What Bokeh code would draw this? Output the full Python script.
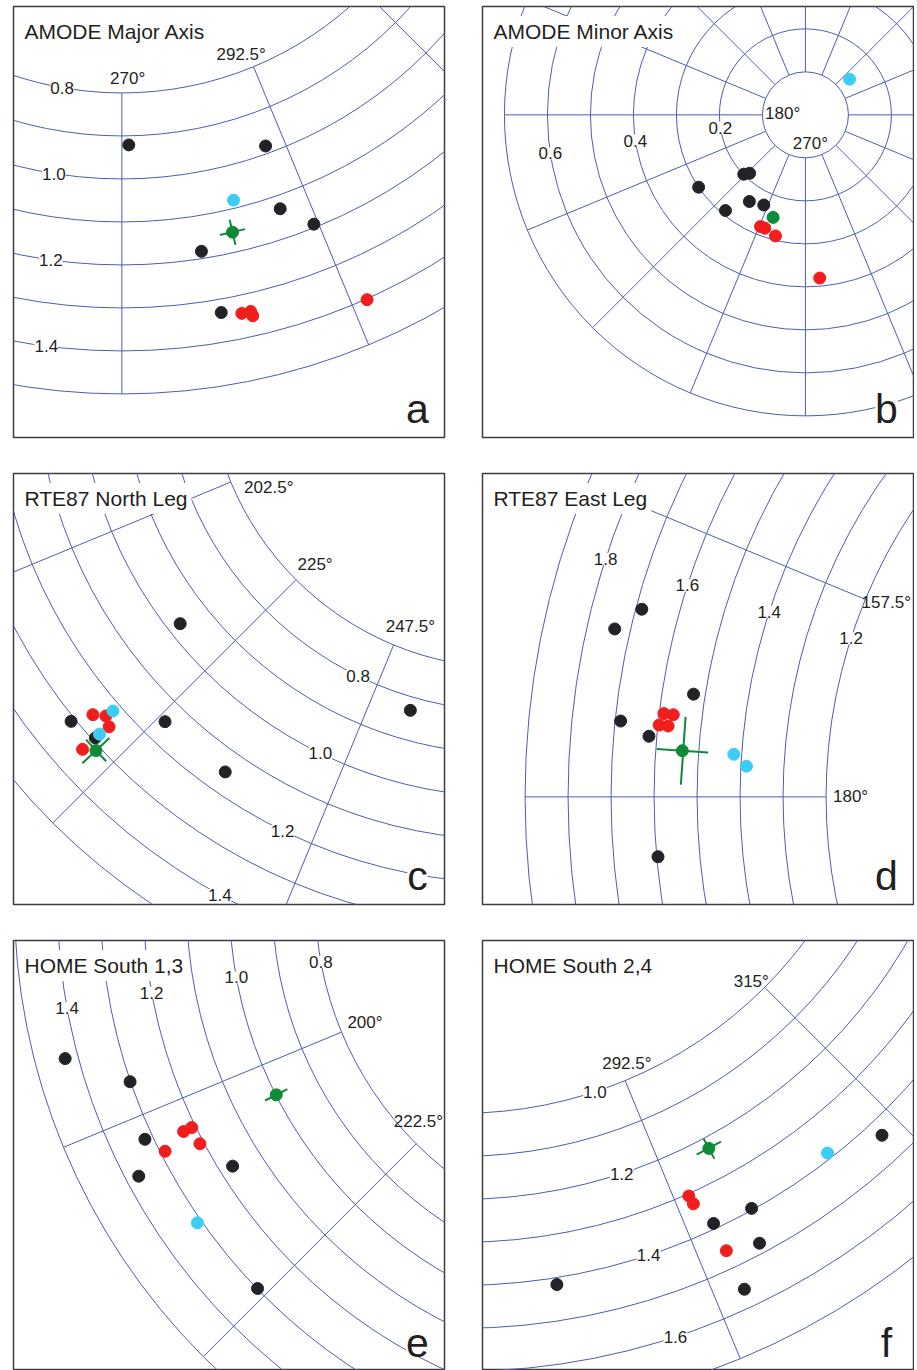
import numpy as np
from bokeh.core.properties import value
from bokeh.embed import file_html
from bokeh.layouts import column, row
from bokeh.models import Label
from bokeh.plotting import figure
from bokeh.resources import INLINE

FONT = "Liberation Sans"
GRID = "#4d5cb3"
INK = "#231f20"
BLACK, RED, CYAN, GREEN = "#222326", "#f21d1d", "#3ccdf4", "#0f8a36"
PX = 430.0      # pixels per unit of radius
FRAME = 431     # frame width in pixels

# ---- a: AMODE Major Axis (angle in degrees, radius) ----
a_rings = [0.8, 0.9, 1.0, 1.1, 1.2, 1.3, 1.4, 1.5]
a_ring_ticks = [0.8, 1.0, 1.2, 1.4]
a_spoke_ticks = [270, 292.5]
a_black_ang = [271.0, 289.9, 289.0, 292.0, 279.0, 280.0]
a_black_r = [0.921, 0.982, 1.131, 1.192, 1.183, 1.331]
a_red_ang = [282.0, 282.9, 283.0, 294.0]
a_red_r = [1.342, 1.342, 1.353, 1.402]
a_cyan_ang = [283.9]
a_cyan_r = [1.081]
a_mean = [282.9, 1.153]
a_err = [1.5, 0.03]

# ---- b: AMODE Minor Axis ----
b_rings = [0.1, 0.2, 0.3, 0.4, 0.5, 0.6, 0.7]
b_ring_ticks = [0.2, 0.4, 0.6]
b_spoke_ticks = [180, 270]
b_black_ang = [214.1, 223.9, 226.3, 230.1, 237.1, 245.2]
b_black_r = [0.300, 0.199, 0.188, 0.290, 0.240, 0.231]
b_red_ang = [248.1, 250.3, 256.1, 275.0]
b_red_r = [0.280, 0.280, 0.290, 0.381]
b_cyan_ang = [39.0]
b_cyan_r = [0.132]
b_mean = [252.5, 0.250]
b_err = [3.2, 0.01]

# ---- c: RTE87 North Leg ----
c_rings = [0.7, 0.8, 0.9, 1.0, 1.1, 1.2, 1.3, 1.4, 1.5]
c_ring_ticks = [0.8, 1.0, 1.2, 1.4]
c_spoke_ticks = [202.5, 225, 247.5]
c_black_ang = [218.0, 219.0, 225.9, 235.0, 254.0, 221.9]
c_black_r = [0.970, 1.310, 1.149, 1.150, 0.831, 1.292]
c_red_ang = [219.9, 220.9, 222.0, 221.9]
c_red_r = [1.261, 1.240, 1.251, 1.332]
c_cyan_ang = [221.0, 221.9]
c_cyan_r = [1.220, 1.279]
c_mean = [222.9, 1.311]
c_err = [1.5, 0.043]

# ---- d: RTE87 East Leg ----
d_rings = [1.2, 1.3, 1.4, 1.5, 1.6, 1.7, 1.8, 1.9]
d_ring_ticks = [1.2, 1.4, 1.6, 1.8]
d_spoke_ticks = [157.5, 180]
d_black_ang = [165.0, 167.0, 171.0, 174.0, 175.0, 185.0]
d_black_r = [1.686, 1.736, 1.527, 1.687, 1.618, 1.597]
d_red_ang = [173.0, 173.0, 174.0, 174.0]
d_red_r = [1.589, 1.567, 1.597, 1.576]
d_cyan_ang = [176.0, 177.05]
d_cyan_r = [1.418, 1.387]
d_mean = [176.0, 1.538]
d_err = [2.95, 0.06]

# ---- e: HOME South 1,3 ----
e_rings = [0.8, 0.9, 1.0, 1.1, 1.2, 1.3, 1.4, 1.5]
e_ring_ticks = [0.8, 1.0, 1.2, 1.4]
e_spoke_ticks = [200, 222.5]
e_black_ang = [192.4, 196.4, 202.4, 205.4, 209.4, 221.5]
e_black_r = [1.430, 1.301, 1.319, 1.370, 1.169, 1.299]
e_red_ang = [203.4, 203.4, 205.4, 204.4]
e_red_r = [1.230, 1.209, 1.209, 1.289]
e_cyan_ang = [212.4]
e_cyan_r = [1.310]
e_mean = [204.4, 0.999]
e_err = [0.8, 0.029]

# ---- f: HOME South 2,4 ----
f_rings = [1.0, 1.1, 1.2, 1.3, 1.4, 1.5, 1.6, 1.7]
f_ring_ticks = [1.0, 1.2, 1.4, 1.6]
f_spoke_ticks = [292.5, 315]
f_black_ang = [279.1, 295.1, 299.0, 298.1, 295.1, 313.0]
f_black_r = [1.416, 1.387, 1.396, 1.476, 1.556, 1.437]
f_red_ang = [294.0, 294.1, 295.1]
f_red_r = [1.305, 1.326, 1.457]
f_cyan_ang = [308.0]
f_cyan_r = [1.386]
f_mean = [298.1, 1.226]
f_err = [1.5, 0.027]


def polar(ang, r, rot=0.0):
    t = np.radians(np.asarray(ang, dtype=float) + rot)
    r = np.asarray(r, dtype=float)
    return r * np.cos(t), r * np.sin(t)


def panel(title, letter, view, border, fh, rings, ring_ticks, ring_tick_ang,
          spoke_ticks, spoke_tick_pos, black, red, cyan, mean, err, rot=0.0):
    x0, y1 = view
    left, right, top, bottom = border
    p = figure(width=left + FRAME + right, height=top + fh + bottom,
               x_range=(x0, x0 + FRAME / PX), y_range=(y1 - fh / PX, y1),
               min_border_left=left, min_border_right=right,
               min_border_top=top, min_border_bottom=bottom,
               x_axis_location=None, y_axis_location=None, title=None,
               toolbar_location=None, output_backend="svg")
    p.grid.visible = False
    p.outline_line_color = "#3c3c3c"
    p.outline_line_width = 1.5

    # rings and spokes
    p.circle(x=np.zeros(len(rings)), y=np.zeros(len(rings)), radius=rings,
             fill_color=None, line_color=GRID, line_width=1)
    spokes = np.arange(spoke_ticks[0] % 22.5, 360, 22.5)
    xi, yi = polar(spokes, min(rings), rot)
    xo, yo = polar(spokes, max(rings), rot)
    p.segment(xi, yi, xo, yo, line_color=GRID, line_width=1)

    # tick labels (positions given as geometric angles)
    ang = np.broadcast_to(np.asarray(ring_tick_ang, dtype=float), (len(ring_ticks),))
    lx, ly = polar(ang, ring_ticks)
    p.text(lx, ly, text=[f"{v:.1f}" for v in ring_ticks],
           text_font=value(FONT), text_font_size="17px", text_color=INK,
           text_align="center", text_baseline="middle",
           background_fill_color="white")
    sa = [q[0] for q in spoke_tick_pos]
    sr = [q[1] for q in spoke_tick_pos]
    sx, sy = polar(sa, sr)
    p.text(sx, sy, text=[f"{v:g}°" for v in spoke_ticks],
           text_font=value(FONT), text_font_size="17px", text_color=INK,
           text_align="center", text_baseline="middle")

    # measurements
    for (ang_, r_), col in ((black, BLACK), (red, RED), (cyan, CYAN)):
        x, y = polar(ang_, r_, rot)
        p.scatter(x, y, size=12, fill_color=col, line_color=col)

    m_ang, m_r = mean
    da, dr = err
    ax0, ay0 = polar([m_ang, m_ang - da], [m_r - dr, m_r], rot)
    ax1, ay1 = polar([m_ang, m_ang + da], [m_r + dr, m_r], rot)
    p.segment(ax0, ay0, ax1, ay1, line_color=GREEN, line_width=2)
    mx, my = polar([m_ang], [m_r], rot)
    p.scatter(mx, my, size=12, fill_color=GREEN, line_color=GREEN)

    p.add_layout(Label(x=x0 + 7 / PX, y=y1 - 25 / PX, text=title,
                       text_font=FONT, text_font_size="21px", text_color=INK,
                       text_align="left", text_baseline="middle",
                       background_fill_color="white", padding=4))
    p.text([x0 + 404 / PX], [y1 - 402 / PX], text=[letter],
           text_font=value(FONT), text_font_size="41px", text_color=INK,
           text_align="center", text_baseline="alphabetic",
           background_fill_color="white")
    return p


pa = panel("AMODE Major Axis", "a", (-0.252, -0.599), (13, 37, 6, 35), 431,
           a_rings, a_ring_ticks, [260.0, 260.9, 262.1, 262.8],
           a_spoke_ticks, [(271.0, 0.766), (291.35, 0.762)],
           (a_black_ang, a_black_r), (a_red_ang, a_red_r), (a_cyan_ang, a_cyan_r),
           a_mean, a_err)
pb = panel("AMODE Minor Axis", "b", (-0.751, 0.252), (1, 1, 6, 35), 431,
           b_rings, b_ring_ticks, 188.6,
           b_spoke_ticks, [(176.0, 0.053), (279.8, 0.068)],
           (b_black_ang, b_black_r), (b_red_ang, b_red_r), (b_cyan_ang, b_cyan_r),
           b_mean, b_err)
pc = panel("RTE87 North Leg", "c", (-1.152, -0.248), (13, 37, 1, 35), 431,
           c_rings, c_ring_ticks, [244.0, 244.0, 244.0, 241.3],
           c_spoke_ticks, [(206.7, 0.625), (225.5, 0.643), (249.2, 0.645)],
           (c_black_ang, c_black_r), (c_red_ang, c_red_r), (c_cyan_ang, c_cyan_r),
           c_mean, c_err)
pd_ = panel("RTE87 East Leg", "d", (-1.999, 0.752), (1, 1, 1, 35), 431,
            d_rings, d_ring_ticks, 162.1,
            d_spoke_ticks, [(156.95, 1.152), (180.0, 1.143)],
            (d_black_ang, d_black_r), (d_red_ang, d_red_r), (d_cyan_ang, d_cyan_r),
            d_mean, d_err)
pe = panel("HOME South 1,3", "e", (-1.502, -0.093), (13, 37, 1, 0), 430,
           e_rings, e_ring_ticks, 190.3,
           e_spoke_ticks, [(202.5, 0.741), (222.5, 0.760)],
           (e_black_ang, e_black_r), (e_red_ang, e_red_r), (e_cyan_ang, e_cyan_r),
           e_mean, e_err, rot=2.5)
pf = panel("HOME South 2,4", "f", (0.051, -0.598), (1, 1, 1, 0), 430,
           f_rings, f_ring_ticks, 288.2,
           f_spoke_ticks, [(293.6, 0.966), (314.3, 0.968)],
           (f_black_ang, f_black_r), (f_red_ang, f_red_r), (f_cyan_ang, f_cyan_r),
           f_mean, f_err)

p = column(row(pa, pb), row(pc, pd_), row(pe, pf))
open("out.html", "w").write(file_html(p, INLINE))
